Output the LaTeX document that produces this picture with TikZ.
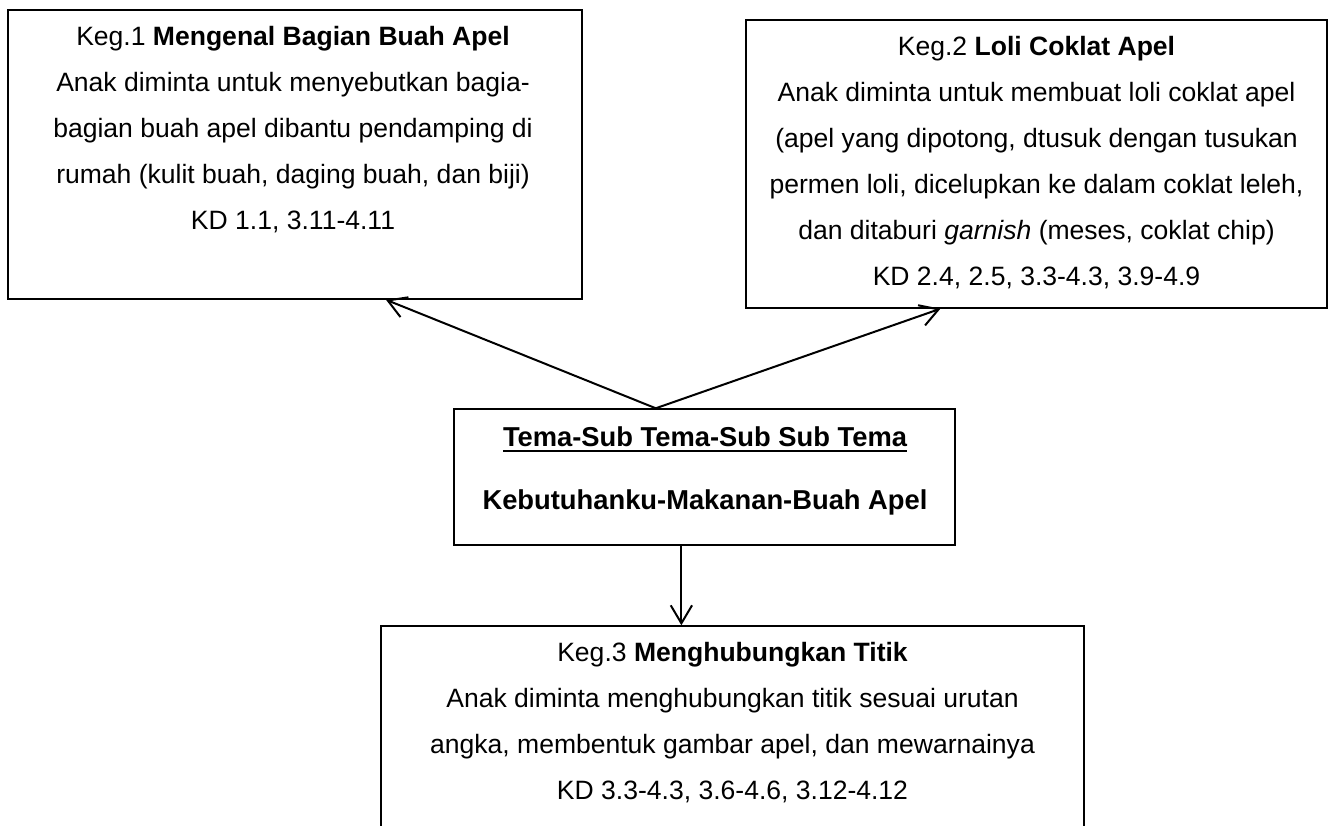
\documentclass[tikz,border=0pt]{standalone}
\usepackage{fontspec}
\setmainfont{Liberation Sans}
\usetikzlibrary{arrows.meta,calc}
\newdimen\pxu \pxu=0.75pt
\newcommand\myul[1]{\setbox0\hbox{#1}\rlap{\rule[-3.8pt]{\wd0}{1.4pt}}\box0}
\begin{document}
\begin{tikzpicture}[x=0.75pt,y=-0.75pt,
  box/.style={draw, line width=1.1pt, inner sep=0pt},
  txt/.style={align=center, inner sep=0pt, font=\fontsize{19.9}{34.5}\selectfont},
  ttxt/.style={align=center, inner sep=0pt, font=\fontsize{20.5}{47}\selectfont\bfseries},
  arr/.style={line width=1.5pt, -{Straight Barb[length=13.5pt,width=16pt]}}]
\useasboundingbox (0,0) rectangle (1334,825);
\clip (0,0) rectangle (1334,825);
% boxes
\node[box, minimum width=574\pxu, minimum height=289\pxu] (b1) at (295,154.5) {};
\node[box, minimum width=581\pxu, minimum height=288\pxu] (b2) at (1036.5,164) {};
\node[box, minimum width=501\pxu, minimum height=136\pxu] (tema) at (704.5,477) {};
\node[box, minimum width=703\pxu, minimum height=240\pxu] (b3) at (732.5,746) {};
% texts
\node[txt] (t1) at (293,130) {Keg.1 \textbf{Mengenal Bagian Buah Apel}\\
Anak diminta untuk menyebutkan bagia-\\
bagian buah apel dibantu pendamping di\\
rumah (kulit buah, daging buah, dan biji)\\
KD 1.1, 3.11-4.11};
\node[txt] (t2) at (1036.5,162.5) {Keg.2 \textbf{Loli Coklat Apel}\\
Anak diminta untuk membuat loli coklat apel\\
(apel yang dipotong, dtusuk dengan tusukan\\
permen loli, dicelupkan ke dalam coklat leleh,\\
dan ditaburi \textit{garnish} (meses, coklat chip)\\
KD 2.4, 2.5, 3.3-4.3, 3.9-4.9};
\node[ttxt] (tt) at (705,471) {\myul{Tema-Sub Tema-Sub Sub Tema}\\
Kebutuhanku-Makanan-Buah Apel};
\node[txt] (t3) at (732.5,723) {Keg.3 \textbf{Menghubungkan Titik}\\
Anak diminta menghubungkan titik sesuai urutan\\
angka, membentuk gambar apel, dan mewarnainya\\
KD 3.3-4.3, 3.6-4.6, 3.12-4.12};
% connectors
\coordinate (j) at ($(tema.north west)!0.403!(tema.north east)$);
\coordinate (e1) at ($(b1.south west)!0.658!(b1.south east)$);
\coordinate (e2) at ($(b2.south west)!0.335!(b2.south east)$);
\coordinate (d1) at ($(tema.south west)!0.454!(tema.south east)$);
\draw[arr] (j) -- (e1);
\draw[arr] (j) -- (e2);
\draw[arr] (d1) -- (d1 |- b3.north);
\end{tikzpicture}
\end{document}
